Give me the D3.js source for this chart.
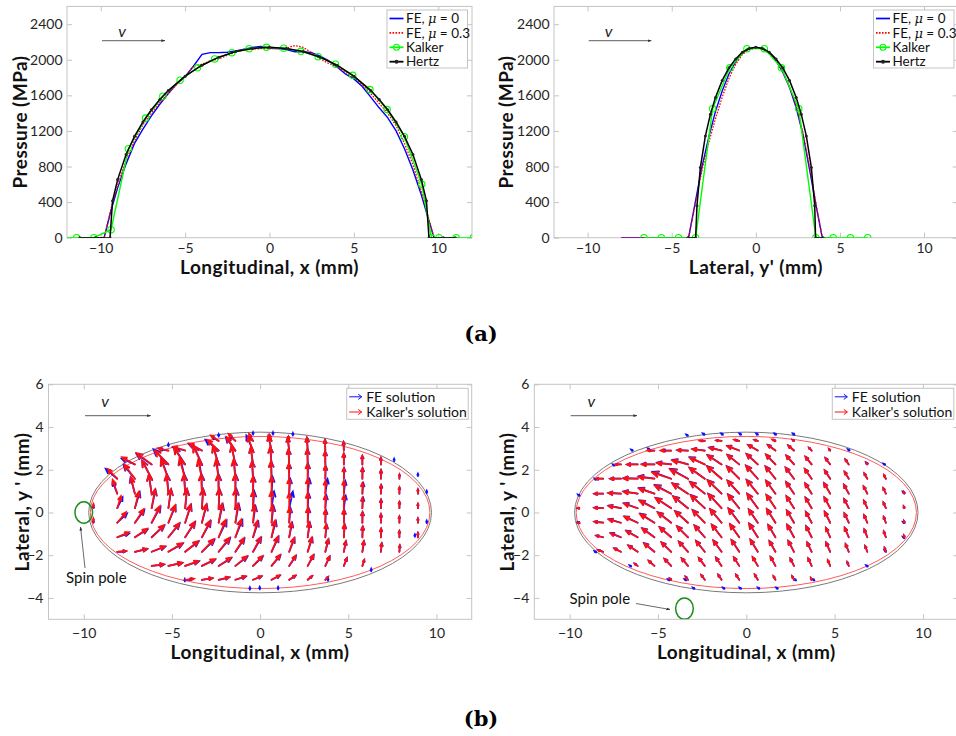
<!DOCTYPE html>
<html><head><meta charset="utf-8">
<script src="https://cdn.jsdelivr.net/npm/d3@7"></script>
<style>
body{margin:0;background:#fff}
svg{display:block}
text{font-family:Lato,"Open Sans","Liberation Sans",sans-serif}
</style>
</head><body>
<svg id="c" width="956" height="736"></svg>
<script>
// ---------------- DATA ----------------
// (a) pressure, longitudinal
const longHertzX = [-11.25,-10.3,-9.45,-9.3,-9.0,-8.5,-8.0,-7.5,-7.0,-6.5,-6.0,-5.0,-4.0,-3.0,-2.0,-1.0,0,1.0,2.0,3.0,4.0,5.0,6.0,6.5,7.0,7.5,8.0,8.5,9.0,9.3,9.45,10.3,11.0];
const longHertzP = [0,0,0,415,653,935,1139,1301,1438,1553,1654,1816,1939,2029,2092,2128,2140,2128,2092,2029,1939,1816,1654,1553,1438,1301,1139,935,653,415,0,0,0];
const longKalkerX = [-12.46,-11.43,-10.41,-9.39,-8.36,-7.34,-6.32,-5.3,-4.27,-3.25,-2.23,-1.21,-0.18,0.84,1.86,2.88,3.91,4.93,5.95,6.97,7.99,9.02,9.6,10.04,11.06,12.08];
const longKalkerP = [0,0,0,90,1000,1345,1590,1770,1910,2010,2080,2125,2140,2130,2095,2035,1950,1825,1665,1440,1135,600,0,0,0,0];
const longFEX = [-11.2,-9.8,-9.4,-9.0,-8.5,-8.0,-7.5,-7.0,-6.5,-6.0,-5.5,-5.0,-4.5,-4.0,-3.5,-3.0,-2.5,-2.0,-1.5,-1.0,-0.5,0,0.5,1.0,1.5,2.0,2.5,3.0,3.5,4.0,4.5,5.0,5.5,6.0,6.5,7.0,7.5,8.0,8.5,9.0,9.4,9.75,11.2];
const longFE0P = [0,0,300,560,830,1060,1220,1370,1500,1620,1730,1810,1930,2060,2080,2080,2085,2100,2120,2140,2150,2130,2125,2115,2090,2090,2080,2040,1990,1920,1840,1785,1700,1580,1460,1350,1200,1000,760,480,220,0,0];
const longFE3P = [0,0,320,590,870,1090,1270,1400,1520,1620,1720,1810,1930,1950,1990,2010,2050,2090,2110,2120,2125,2125,2125,2130,2160,2140,2080,2010,1960,1920,1860,1800,1720,1620,1510,1400,1260,1060,820,520,240,0,0];
// (a) pressure, lateral
const latHertzX = [-4.05,-3.58,-3.5,-3.3,-3.0,-2.7,-2.4,-2.0,-1.6,-1.2,-0.8,-0.4,0,0.4,0.8,1.2,1.6,2.0,2.4,2.7,3.0,3.3,3.5,3.55,4.0];
const latHertzP = [0,0,358,789,1144,1389,1577,1768,1910,2010,2085,2126,2140,2126,2085,2010,1910,1768,1577,1389,1144,789,358,0,0];
const latKalkerX = [-6.65,-5.62,-4.6,-3.58,-2.57,-1.55,-0.53,0.5,1.52,2.55,3.57,4.6,5.62,6.65];
const latKalkerP = [0,0,0,0,1450,1910,2125,2125,1910,1450,0,0,0,0];
const latFEX = [-8.0,-4.0,-3.6,-3.2,-2.8,-2.4,-2.0,-1.6,-1.2,-0.8,-0.4,0,0.4,0.8,1.2,1.6,2.0,2.4,2.8,3.2,3.6,3.95,4.5];
const latFE0P = [0,0,400,800,1130,1420,1650,1840,1980,2075,2125,2140,2125,2075,1990,1860,1690,1460,1160,760,340,0,0];
const latFE3P = [0,0,380,760,1070,1340,1580,1790,1950,2060,2115,2130,2120,2070,1990,1870,1700,1480,1180,790,360,0,0];

const pressXTicks = [-10,-5,0,5,10];
const pressYTicks = [0,400,800,1200,1600,2000,2400];
const legendA = ["FE, |μ| = 0","FE, |μ| = 0.3","Kalker","Hertz"];

// (b) tangential traction fields: grid + "angle(deg)/length(0.1 mm)" per cell
const quiverCols = [-9.45,-8.1,-7.1,-6.15,-5.2,-4.25,-3.3,-2.35,-1.4,-0.4,0.65,1.65,2.7,3.7,4.75,5.8,6.85,7.9,8.95];
const quiverRows = [3.35,2.9,2.25,1.58,0.88,0.2,-0.48,-1.16,-1.84,-2.5,-3.15];
const spinKalkerL = [
". . . . . . . 150/5 140/5 125/4 110/3 100/2 95/1 . . . . . .",
". . . . 170/6 165/7 155/8 142/8 128/8 115/7 105/7 99/6 95/6 93/5 93/4 . . . .",
". . 155/8 148/10 140/10 130/10 120/10 112/9 105/9 100/8 96/8 94/7 92/7 92/6 91/5 91/4 90/3 . .",
". 140/7 132/9 123/10 115/10 109/10 104/9 100/9 97/9 95/8 93/8 92/7 91/7 90/6 90/5 90/5 90/4 90/2 .",
". 112/7 106/8 101/9 97/9 95/9 93/9 92/9 91/9 90/8 90/8 90/7 90/7 90/6 90/6 90/5 90/4 90/3 90/2",
"90/2 70/6 74/8 78/9 81/9 84/9 86/9 88/9 89/9 90/8 90/8 90/7 90/7 90/6 90/6 90/5 90/4 90/3 90/2",
"90/2 45/7 52/8 59/9 65/9 70/9 74/9 78/9 81/9 84/8 86/8 88/7 89/7 90/6 90/6 90/5 90/4 90/3 90/2",
". 20/7 30/8 39/9 47/9 53/9 59/9 64/9 68/9 72/8 76/8 79/7 82/7 85/6 87/6 88/5 89/4 90/3 90/2",
". 5/5 12/7 19/8 27/9 34/9 41/9 47/9 53/8 58/8 63/8 67/7 71/7 75/6 78/5 81/5 84/4 86/3 .",
". . . 6/7 11/8 17/8 23/8 29/8 35/8 41/7 47/7 53/6 58/6 62/5 66/4 70/3 . . .",
". . . . . 5/5 8/6 12/6 16/6 20/5 25/5 30/4 36/3 42/2 . . . . ."];
const spinFEL = [
". . . . . . . 155/4 145/4 130/3 115/3 100/2 95/1 . . . . . .",
". . . . 172/5 168/7 158/8 146/9 132/8 118/8 105/7 98/6 94/6 92/5 92/4 . . . .",
". . 160/8 150/10 140/11 128/10 118/10 110/9 104/9 99/8 95/8 93/7 91/7 90/6 90/5 90/4 90/3 . .",
". 145/8 135/9 122/10 113/10 106/10 101/9 98/9 95/9 93/8 91/8 90/7 88/7 88/6 88/5 88/5 88/4 88/2 .",
". 115/6 108/8 100/9 95/9 93/9 91/9 90/9 89/9 88/8 86/8 85/7 82/7 80/7 82/6 84/5 86/4 88/3 90/2",
"90/1 60/6 70/8 76/9 80/9 83/9 85/9 87/9 86/9 85/8 80/8 75/8 86/7 84/6 80/6 85/5 88/4 88/3 90/2",
"90/1 38/7 48/8 56/9 63/9 68/9 72/9 75/9 78/9 80/8 82/8 84/7 86/7 87/6 88/6 88/5 89/4 90/3 90/2",
". 15/7 27/8 37/9 45/9 51/9 56/9 60/9 64/9 68/8 72/8 76/7 80/7 83/6 85/6 87/5 88/4 90/3 90/2",
". 3/5 10/7 17/8 25/9 32/9 38/9 44/9 50/8 55/8 60/8 64/7 68/7 72/6 76/5 79/5 82/4 85/3 .",
". . . 5/7 10/8 15/8 21/8 27/8 32/8 38/7 44/7 50/6 55/6 60/5 64/4 68/3 . . .",
". . . . . 4/4 7/6 10/6 14/6 18/5 22/5 27/4 33/3 40/2 . . . . ."];
const spinKalkerR = [
". . . . . . . 178/3 175/3 170/3 165/2 160/2 150/1 . . . . . .",
". . . . 180/4 180/6 178/6 175/7 170/7 163/7 155/6 150/5 145/4 140/2 135/1 . . . .",
". . 180/3 180/6 180/7 176/8 168/9 160/9 152/9 147/8 143/8 140/7 137/6 135/5 133/4 130/3 128/1 . .",
". 180/4 180/6 179/8 175/9 165/11 157/11 150/10 145/10 141/9 138/9 135/8 133/7 131/6 129/5 127/4 125/3 122/2 .",
". 180/5 178/7 174/8 165/9 158/10 152/10 147/10 142/10 138/9 135/9 132/8 130/7 128/6 126/6 124/5 122/4 120/3 115/1",
"180/1 178/5 172/7 165/8 158/9 152/10 147/10 143/10 139/10 135/9 132/9 130/8 128/7 126/6 124/6 122/5 120/4 118/3 115/1",
"180/1 175/5 168/7 160/8 154/9 148/9 144/9 140/9 136/9 133/9 130/8 128/8 126/7 124/6 122/6 120/5 118/4 115/3 112/1",
". 170/4 163/6 156/7 150/8 145/8 141/8 137/8 134/8 131/8 128/8 126/7 124/7 122/6 120/5 118/5 116/4 114/3 110/1",
". 165/3 158/4 152/6 147/7 142/7 138/7 135/7 132/7 129/7 127/7 125/6 123/6 121/5 119/5 117/4 115/3 112/2 .",
". . . 150/2 145/4 140/5 136/5 133/5 130/5 128/5 126/5 124/5 122/4 120/4 118/3 115/2 . . .",
". . . . . 140/1 135/2 132/3 130/3 128/3 126/3 124/2 122/2 120/1 . . . . ."];
const spinFER = [
". . . . . . . 178/2 175/3 170/2 165/2 160/1 150/1 . . . . . .",
". . . . 180/3 180/5 178/6 174/7 168/7 162/7 154/6 148/5 144/4 140/2 135/1 . . . .",
". . 180/3 180/6 179/7 174/8 166/9 158/9 151/9 146/8 142/8 139/7 136/6 134/5 132/4 130/3 128/1 . .",
". 180/4 180/6 178/8 173/9 163/11 155/11 149/10 144/10 140/9 137/9 134/8 132/7 130/6 128/5 126/4 124/3 122/2 .",
". 180/5 177/7 172/8 163/9 156/10 151/10 146/10 141/10 137/9 134/9 131/8 129/7 127/6 125/6 123/5 121/4 119/3 115/1",
"180/1 177/5 170/7 163/8 156/9 151/10 146/10 142/10 138/10 134/9 131/9 129/8 127/7 125/6 123/6 121/5 119/4 117/3 115/1",
"180/1 174/5 166/7 158/8 152/9 147/9 143/9 139/9 135/9 132/9 129/8 127/8 125/7 123/6 121/6 119/5 117/4 114/3 112/1",
". 168/4 161/6 154/7 148/8 144/8 140/8 136/8 133/8 130/8 127/8 125/7 123/7 121/6 119/5 117/5 115/4 113/3 110/1",
". 163/3 156/4 150/6 145/7 141/7 137/7 134/7 131/7 128/7 126/7 124/6 122/6 120/5 118/5 116/4 114/3 112/2 .",
". . . 148/2 143/4 139/5 135/5 132/5 129/5 127/5 125/5 123/5 121/4 119/4 117/3 115/2 . . .",
". . . . . 138/1 134/2 131/3 129/3 127/3 125/3 123/2 121/2 119/1 . . . . ."];
// tiny FE tractions at contact-edge nodes
const feEdgeL = [[-4.27,-3.23],[-0.58,-3.62],[-0.02,-3.6],[1.02,-3.6],[3.85,-3.2],[-0.4,3.64],[0.73,3.64],[1.86,3.6],[-2.35,3.55],[-5.2,3.1],[8.78,-1.14],[9.45,0.9],[9.45,-0.5],[8.95,1.7],[6.3,-2.75],[7.6,2.4]];
const feEdgeR = [[-3.3,3.59],[-2.36,3.64],[-1.32,3.64],[-0.29,3.64],[0.66,3.64],[1.69,3.64],[2.73,3.64],[-6.42,2.89],[-5.47,2.94],[-7.45,2.19],[-8.49,1.53],[-9.43,0.78],[-9.43,-0.5],[-8.49,-1.87],[-6.51,-2.53],[-4.34,-3.18],[-3.4,-3.18],[-2.93,-3.57],[-1.23,-3.57],[-0.29,-3.57],[0.75,-3.57],[1.79,-3.57],[2.82,-3.18],[3.86,-3.18],[5.85,2.9],[6.88,2.28],[7.86,2.23],[8.96,0.91],[8.96,-0.5],[8.96,-1.2],[7.92,-1.83],[6.88,-2.53]];
const contactFE = [9.72, 3.76];      // semi-axes (mm)
const contactKalker = [9.63, 3.56];
const spinPoleL = [-10, 0, 0.5];     // centre x, y, radius (mm)
const spinPoleR = [-3.5, -4.5, 0.5];
const quivXTicks = [-10,-5,0,5,10];
const quivYTicks = [-4,-2,0,2,4,6];
const legendB = ["FE solution","Kalker's solution"];

// ---------------- DRAW ----------------
const svg = d3.select('#c');
const defs = svg.append('defs');
defs.append('marker').attr('id','ah').attr('viewBox','0 0 10 10').attr('refX',9).attr('refY',5)
  .attr('markerWidth',5).attr('markerHeight',5).attr('orient','auto')
  .append('path').attr('d','M0,1.5 L10,5 L0,8.5 Z').attr('fill','#333');

const BOX = '#c4c4c4', TXT = '#262626';
let clipN = 0;

function axesFrame(x, y, xt, yt, xPad, yPad){
  const g = svg.append('g');
  const [x0,x1] = x.range(), [yb,yt0] = y.range();
  g.append('rect').attr('x',x0).attr('y',yt0).attr('width',x1-x0).attr('height',yb-yt0)
    .attr('fill','#fff').attr('stroke',BOX).attr('stroke-width',1);
  const mk = (axis, tr, labels) => {
    const a = g.append('g').attr('transform',tr).call(axis);
    a.select('.domain').remove();
    a.selectAll('line').attr('stroke',BOX);
    a.selectAll('text').attr('fill',TXT).style('font-size','14px').style('font-family','Lato,"Open Sans",sans-serif');
    if(!labels) a.selectAll('text').remove();
  };
  mk(d3.axisBottom(x).tickValues(xt).tickSize(-5).tickPadding(xPad).tickFormat(d3.format('d')), `translate(0,${yb})`, true);
  mk(d3.axisTop(x).tickValues(xt).tickSize(-5), `translate(0,${yt0})`, false);
  mk(d3.axisLeft(y).tickValues(yt).tickSize(-5).tickPadding(yPad).tickFormat(d3.format('d')), `translate(${x0},0)`, true);
  mk(d3.axisRight(y).tickValues(yt).tickSize(-5), `translate(${x1},0)`, false);
  const id = 'clip'+(clipN++);
  defs.append('clipPath').attr('id',id).append('rect').attr('x',x0).attr('y',yt0).attr('width',x1-x0).attr('height',yb-yt0);
  const plot = svg.append('g').attr('clip-path',`url(#${id})`);
  return plot;
}

function axisLabels(xl, xcx, xby, yl, ycy, ybx){
  svg.append('text').attr('x',xcx).attr('y',xby).attr('text-anchor','middle')
    .style('font-size','19px').style('font-weight','bold').style('letter-spacing','0.45px').attr('fill','#111').text(xl);
  svg.append('text').attr('transform',`translate(${ybx},${ycy}) rotate(-90)`).attr('text-anchor','middle')
    .style('font-size','19px').style('font-weight','bold').style('letter-spacing','0.45px').attr('fill','#111').text(yl);
}

function vArrow(xs, xe, yA, xv, yv){
  svg.append('line').attr('x1',xs).attr('x2',xe).attr('y1',yA).attr('y2',yA)
    .attr('stroke','#333').attr('stroke-width',0.8).attr('marker-end','url(#ah)');
  svg.append('text').attr('x',xv).attr('y',yv).attr('text-anchor','middle').style('font-size','16px')
    .style('font-style','italic').attr('fill','#222').text('v');
}

function pressurePlot(x, y, series, legX, legY){
  const plot = axesFrame(x, y, pressXTicks, pressYTicks, 5, 4.5);
  const line = d3.line().x(d=>x(d[0])).y(d=>y(d[1]));
  series.forEach(s=>{
    const pts = s.X.map((v,i)=>[v, s.P[i]]);
    plot.append('path').datum(pts).attr('d',line).attr('fill','none').attr('stroke',s.color)
      .attr('stroke-width',s.w).attr('stroke-dasharray',s.dash||null);
    if(s.marker==='o') plot.selectAll(null).data(pts).enter().append('circle')
      .attr('cx',d=>x(d[0])).attr('cy',d=>y(d[1])).attr('r',3.2).attr('fill','none').attr('stroke',s.color).attr('stroke-width',1.1);
    if(s.marker==='.') plot.selectAll(null).data(pts).enter().append('circle')
      .attr('cx',d=>x(d[0])).attr('cy',d=>y(d[1])).attr('r',1.5).attr('fill','#222');
  });
  // legend
  const lg = svg.append('g');
  lg.append('rect').attr('x',legX).attr('y',legY).attr('width',80.5).attr('height',58)
    .attr('fill','#fff').attr('stroke',BOX);
  series.forEach((s,i)=>{
    const cy = legY + 8.5 + i*14.4;
    lg.append('line').attr('x1',legX+2.5).attr('x2',legX+16.5).attr('y1',cy).attr('y2',cy)
      .attr('stroke',s.color).attr('stroke-width',s.w+0.3).attr('stroke-dasharray',s.dash||null);
    if(s.marker==='o') lg.append('circle').attr('cx',legX+9.5).attr('cy',cy).attr('r',3).attr('fill','none').attr('stroke',s.color).attr('stroke-width',1.1);
    if(s.marker==='.') lg.append('circle').attr('cx',legX+9.5).attr('cy',cy).attr('r',2).attr('fill','#222');
    const t = lg.append('text').attr('x',legX+19).attr('y',cy+4.6).style('font-size','13.5px').attr('fill','#111');
    const parts = legendA[i].split('|');
    parts.forEach((p,k)=>{
      const ts = t.append('tspan').text(p);
      if(k===1) ts.style('font-style','italic').style('font-family','"DejaVu Serif",serif').style('font-size','13px');
    });
  });
}

const yP = d3.scaleLinear([0,2600],[237.7,6.4]);
const xTL = d3.scaleLinear([-12,12],[67,472]);
const xTR = d3.scaleLinear([-12,12],[554,957.7]);

pressurePlot(xTL, yP, [
  {X:longFEX, P:longFE0P, color:'#0000ff', w:1.4},
  {X:longFEX, P:longFE3P, color:'#ff0000', w:1.3, dash:'1.6,1.4'},
  {X:longKalkerX, P:longKalkerP, color:'#00ff00', w:1.4, marker:'o'},
  {X:longHertzX, P:longHertzP, color:'#000000', w:1.5, marker:'.'}], 387, 10);
pressurePlot(xTR, yP, [
  {X:latFEX, P:latFE0P, color:'#0000ff', w:1.4},
  {X:latFEX, P:latFE3P, color:'#ff0000', w:1.3, dash:'1.6,1.4'},
  {X:latKalkerX, P:latKalkerP, color:'#00ff00', w:1.4, marker:'o'},
  {X:latHertzX, P:latHertzP, color:'#000000', w:1.5, marker:'.'}], 873.5, 10);

axisLabels('Longitudinal, x (mm)', 269.5, 273.5, 'Pressure (MPa)', 122, 26.5);
axisLabels("Lateral, y' (mm)", 755.9, 273.5, 'Pressure (MPa)', 122, 512.5);
vArrow(102, 165, 40.7, 122, 37);
vArrow(588.7, 651.3, 40.7, 608.7, 37);

// ---- quiver plots ----
function parseField(rows){
  const out = [];
  rows.forEach((r,i)=>{
    r.trim().split(/\s+/).forEach((tok,j)=>{
      if(tok==='.' || j>=quiverCols.length) return;
      const [a,l] = tok.split('/').map(Number);
      out.push({x:quiverCols[j], y:quiverRows[i], a:a, l:l/10});
    });
  });
  return out;
}
function arrowPath(x, y, d){
  const r = d.a*Math.PI/180;
  const x0 = x(d.x), y0 = y(d.y);
  const x1 = x(d.x + d.l*Math.cos(r)), y1 = y(d.y + d.l*Math.sin(r));
  const ang = Math.atan2(y1-y0, x1-x0);
  const len = Math.hypot(x1-x0, y1-y0);
  const h = Math.max(len*0.33, 1.5), s = 0.42;
  const p1 = [x1 - h*Math.cos(ang-s), y1 - h*Math.sin(ang-s)];
  const p2 = [x1 - h*Math.cos(ang+s), y1 - h*Math.sin(ang+s)];
  return `M${x0},${y0}L${x1},${y1}M${p1[0]},${p1[1]}L${x1},${y1}L${p2[0]},${p2[1]}`;
}
function quiverPlot(x, y, feRows, kRows, edge, edgeAng, pole, legX, poleText, poleArrow){
  const plot = axesFrame(x, y, quivXTicks, quivYTicks, 9, 5);
  plot.append('ellipse').attr('cx',x(0)).attr('cy',y(0)).attr('rx',x(contactFE[0])-x(0)).attr('ry',y(0)-y(contactFE[1]))
    .attr('fill','none').attr('stroke','#7a7a7a').attr('stroke-width',1);
  plot.append('ellipse').attr('cx',x(0)).attr('cy',y(0)).attr('rx',x(contactKalker[0])-x(0)).attr('ry',y(0)-y(contactKalker[1]))
    .attr('fill','none').attr('stroke','#ff5a5a').attr('stroke-width',1);
  const fe = parseField(feRows), kk = parseField(kRows);
  edge.forEach(p=>fe.push({x:p[0], y:p[1], a:edgeAng, l:0.12}));
  plot.append('g').selectAll('path').data(fe).enter().append('path').attr('d',d=>arrowPath(x,y,d))
    .attr('fill','none').attr('stroke','#1010ff').attr('stroke-width',1.75).attr('stroke-linecap','round');
  plot.append('g').selectAll('path').data(kk).enter().append('path').attr('d',d=>arrowPath(x,y,d))
    .attr('fill','none').attr('stroke','#ff1010').attr('stroke-width',1.75).attr('stroke-linecap','round');
  plot.append('ellipse').attr('cx',x(pole[0])).attr('cy',y(pole[1])).attr('rx',x(pole[0]+pole[2])-x(pole[0])).attr('ry',y(pole[1])-y(pole[1]+pole[2]))
    .attr('fill','none').attr('stroke','#1e8c1e').attr('stroke-width',1.5);
  // spin pole annotation
  svg.append('text').attr('x',poleText[0]).attr('y',poleText[1]).style('font-size','15px').attr('fill','#111').text('Spin pole');
  svg.append('line').attr('x1',poleArrow[0]).attr('y1',poleArrow[1]).attr('x2',poleArrow[2]).attr('y2',poleArrow[3])
    .attr('stroke','#444').attr('stroke-width',0.8).attr('marker-end','url(#ah)');
  // legend
  const lg = svg.append('g');
  lg.append('rect').attr('x',legX).attr('y',388.3).attr('width',121.5).attr('height',31).attr('fill','#fff').attr('stroke',BOX);
  ['#1010ff','#ff1010'].forEach((c,i)=>{
    const cy = 396.8 + i*15.2;
    lg.append('path').attr('d',`M${legX+2.5},${cy}L${legX+15},${cy}M${legX+11.5},${cy-2.6}L${legX+15},${cy}L${legX+11.5},${cy+2.6}`)
      .attr('fill','none').attr('stroke',c).attr('stroke-width',1);
    lg.append('text').attr('x',legX+19.5).attr('y',cy+5).style('font-size','14px').attr('fill','#111').text(legendB[i]);
  });
}
const yQ = d3.scaleLinear([-5,6],[619.3,384.3]);
const xBL = d3.scaleLinear([-12,12],[48.5,471.7]);
const xBR = d3.scaleLinear([-12,12],[534.3,958.3]);
quiverPlot(xBL, yQ, spinFEL, spinKalkerL, feEdgeL, 90, spinPoleL, 346.7, [66,583], [85,568,80.5,527]);
quiverPlot(xBR, yQ, spinFER, spinKalkerR, feEdgeR, 150, spinPoleR, 832.3, [569.5,604], [636,603.5,670,609.5]);
axisLabels('Longitudinal, x (mm)', 260, 658.5, "Lateral, y ' (mm)", 502, 28.5);
axisLabels('Longitudinal, x (mm)', 746.3, 658.5, "Lateral, y ' (mm)", 502, 513.5);
vArrow(85, 150.7, 415.7, 105, 407);
vArrow(570.7, 637, 415.7, 591.3, 407);

// panel captions
svg.append('text').attr('x',481).attr('y',341).attr('text-anchor','middle').style('font-family','"DejaVu Serif",serif')
  .style('font-weight','bold').style('font-size','21px').attr('fill','#000').text('(a)');
svg.append('text').attr('x',481).attr('y',726).attr('text-anchor','middle').style('font-family','"DejaVu Serif",serif')
  .style('font-weight','bold').style('font-size','21px').attr('fill','#000').text('(b)');
</script>
</body></html>
